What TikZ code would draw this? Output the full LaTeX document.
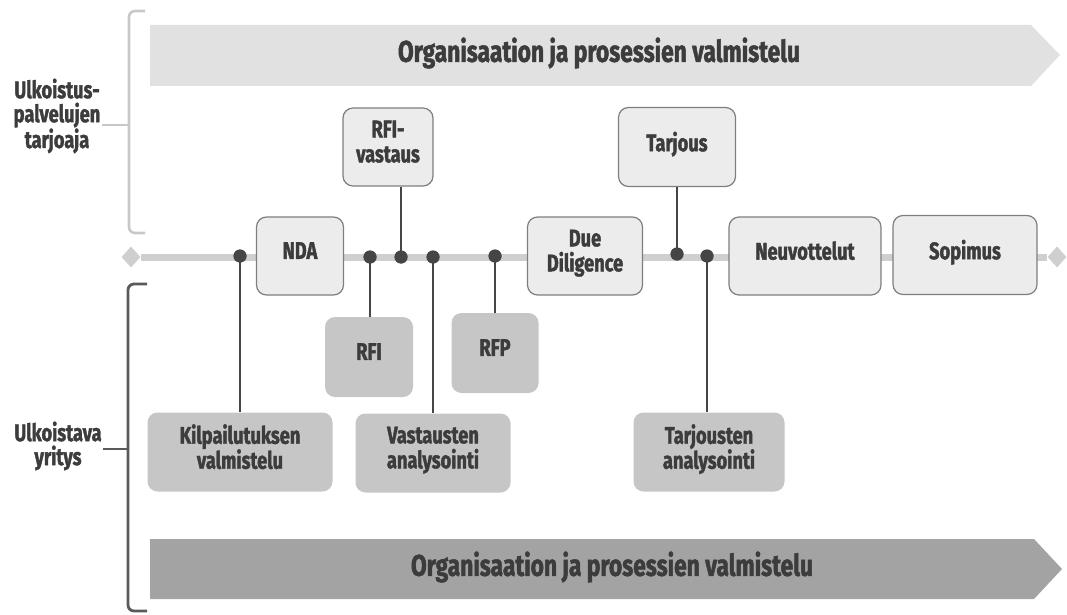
\documentclass[tikz,border=0pt]{standalone}
\usepackage{fontspec}
\newfontfamily\cf[FakeStretch=0.76, FakeBold=1.6]{Fira Sans Bold}
\usetikzlibrary{shapes.geometric}
\definecolor{txt}{HTML}{3C3C3C}
\definecolor{lbox}{HTML}{ECECEC}
\definecolor{lborder}{HTML}{7E7E7E}
\definecolor{dbox}{HTML}{C6C6C6}
\definecolor{band1}{HTML}{E1E1E1}
\definecolor{band2}{HTML}{A3A3A3}
\definecolor{tline}{HTML}{CFCFCF}
\definecolor{dotc}{HTML}{454545}
\definecolor{brace1}{HTML}{C8C8C8}
\definecolor{brace2}{HTML}{5A5A5A}
\tikzset{
  lightbox/.style={draw=lborder, line width=1.2pt, fill=lbox, rounded corners=10pt, inner sep=0pt, align=center, text depth=11pt, font=\cf\fontsize{24}{25}\selectfont, text=txt},
  darkbox/.style={fill=dbox, rounded corners=10pt, inner sep=0pt, align=center, text depth=11pt, font=\cf\fontsize{24}{25}\selectfont, text=txt},
  dotnode/.style={circle, fill=dotc, minimum size=13pt, inner sep=0pt},
  conn/.style={draw=dotc, line width=2.6pt},
  sidelabel/.style={align=center, font=\cf\fontsize{24}{24}\selectfont, text=txt, inner sep=1pt},
  bandtext/.style={font=\cf\fontsize{30}{32}\selectfont, text=txt},
  enddiamond/.style={diamond, fill=tline, minimum width=19pt, minimum height=21pt, inner sep=0pt},
}
\begin{document}
\begin{tikzpicture}[x=1pt,y=-1pt]
\useasboundingbox (0,0) rectangle (1067,615);
% bands
\fill[band1] (150,25) -- (1031,25) -- (1060,55) -- (1031,86) -- (150,86) -- cycle;
\node[bandtext] (toptext) at (599,53) {Organisaation ja prosessien valmistelu};
\fill[band2] (150,539) -- (1034,539) -- (1062,569) -- (1034,599) -- (150,599) -- cycle;
\node[bandtext] (bottext) at (612,567) {Organisaation ja prosessien valmistelu};
% braces
\draw[brace1, line width=2.6pt, rounded corners=6pt] (145,11) -- (129,11) -- (129,233) -- (145,233);
\draw[brace2, line width=2.8pt, rounded corners=6pt] (147,284) -- (128,284) -- (128,611) -- (147,611);
\node[sidelabel] (prov) at (57,116) {Ulkoistus-\\palvelujen\\tarjoaja};
\node[sidelabel] (cust) at (58,446) {Ulkoistava\\yritys};
\coordinate (b1) at (129,125);
\coordinate (b2) at (128,449);
\draw[brace1, line width=2.6pt] (prov.east |- b1) -- (b1);
\draw[brace2, line width=2.8pt] (cust.east |- b2) -- (b2);
% timeline
\node[enddiamond] (tl) at (131,257) {};
\node[enddiamond] (tr) at (1057,257) {};
\draw[tline, line width=7pt] (tl) -- (tr);
% boxes on timeline / upper
\node[lightbox, minimum width=87pt, minimum height=78pt] (nda) at (300,256) {NDA};
\node[lightbox, minimum width=90pt, minimum height=78pt] (rfiv) at (388,147) {RFI-\\vastaus};
\node[lightbox, minimum width=117pt, minimum height=79pt] (tarj) at (677,147) {Tarjous};
\node[lightbox, minimum width=115pt, minimum height=78pt] (due) at (585,256) {Due\\Diligence};
\node[lightbox, minimum width=152pt, minimum height=78pt] (neuv) at (805,256) {Neuvottelut};
\node[lightbox, minimum width=144pt, minimum height=79pt] (sop) at (965,255) {Sopimus};
% lower boxes
\node[darkbox, minimum width=88pt, minimum height=80pt] (rfi) at (369,357) {RFI};
\node[darkbox, minimum width=87pt, minimum height=80pt] (rfp) at (495,353) {RFP};
\node[darkbox, minimum width=185pt, minimum height=79pt] (kil) at (240,452) {Kilpailutuksen\\valmistelu};
\node[darkbox, minimum width=155pt, minimum height=79pt] (vast) at (433,453) {Vastausten\\analysointi};
\node[darkbox, minimum width=151pt, minimum height=79pt] (tarja) at (709,452) {Tarjousten\\analysointi};
% dots
\node[dotnode] (d1) at (240,256) {};
\node[dotnode] (d2) at (370,257) {};
\node[dotnode] (d3) at (401,257) {};
\node[dotnode] (d4) at (433,257) {};
\node[dotnode] (d5) at (495,256) {};
\node[dotnode] (d6) at (677,254) {};
\node[dotnode] (d7) at (707,256) {};
% connectors
\draw[conn] (d1.center) -- (d1.center |- kil.north);
\draw[conn] (d2.center) -- (d2.center |- rfi.north);
\draw[conn] (d3.center) -- (d3.center |- rfiv.south);
\draw[conn] (d4.center) -- (d4.center |- vast.north);
\draw[conn] (d5.center) -- (d5.center |- rfp.north);
\draw[conn] (d6.center) -- (d6.center |- tarj.south);
\draw[conn] (d7.center) -- (d7.center |- tarja.north);
\node[dotnode] at (d1) {};
\node[dotnode] at (d2) {};
\node[dotnode] at (d3) {};
\node[dotnode] at (d4) {};
\node[dotnode] at (d5) {};
\node[dotnode] at (d6) {};
\node[dotnode] at (d7) {};
\end{tikzpicture}
\end{document}
